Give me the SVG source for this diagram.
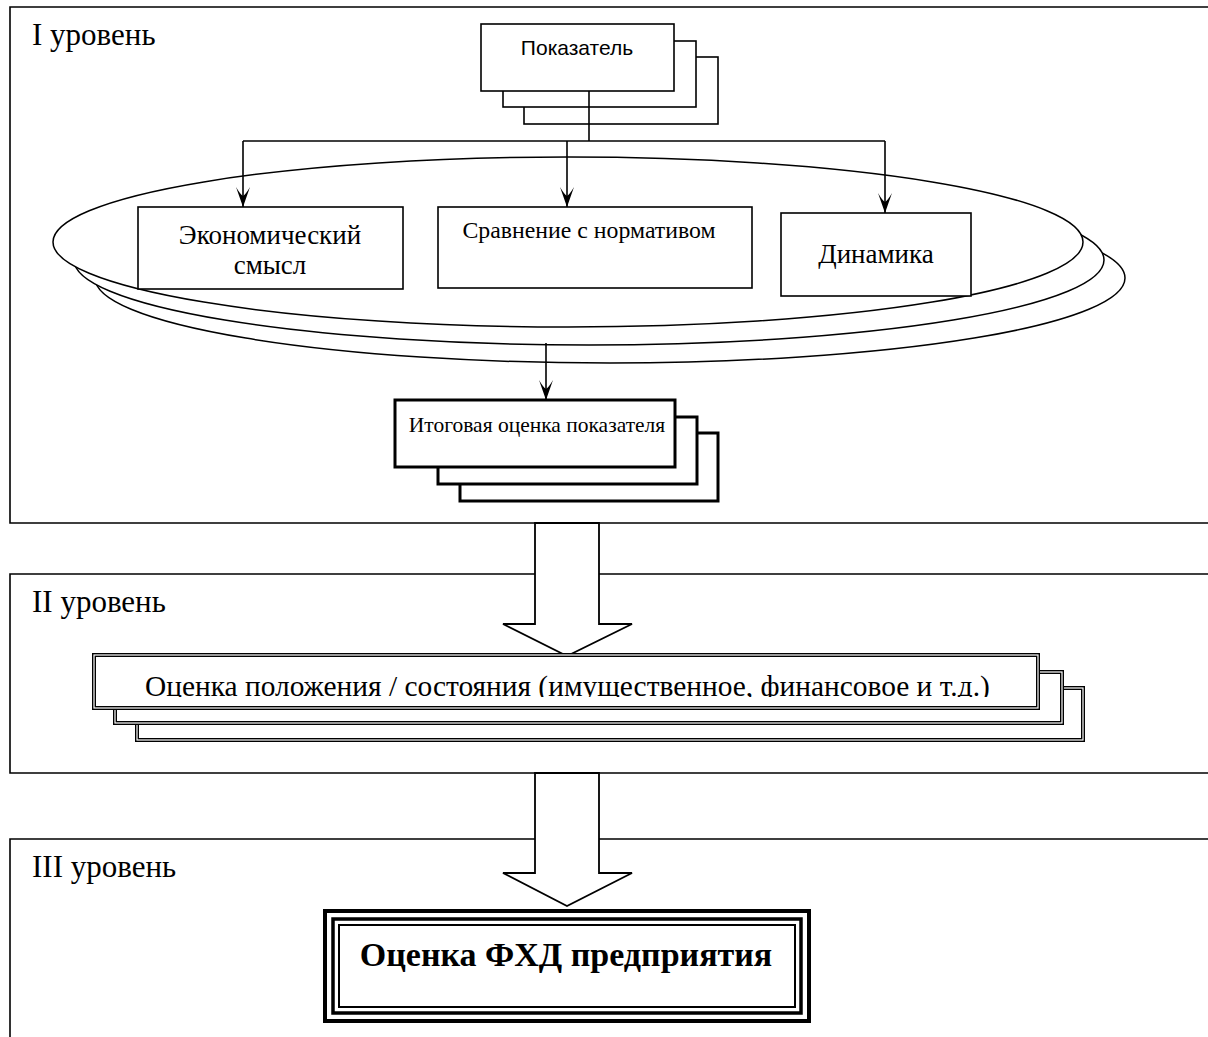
<svg xmlns="http://www.w3.org/2000/svg" width="1208" height="1037" viewBox="0 0 1208 1037">
<style>
.frame{fill:none;stroke:#000;stroke-width:1.6}
.box{fill:#fff;stroke:#000;stroke-width:1.6}
.thick{fill:#fff;stroke:#000;stroke-width:3}
.ell{fill:#fff;stroke:#000;stroke-width:1.5}
.dbl{fill:#fff;stroke:#000;stroke-width:4}
.dbli{fill:none;stroke:#fff;stroke-width:1.2}
.serif{font-family:"Liberation Serif","Times New Roman",serif;fill:#000}
.sans{font-family:"Liberation Sans",Arial,sans-serif;fill:#000}
.line{fill:none;stroke:#000;stroke-width:1.6}
.block{fill:#fff;stroke:#000;stroke-width:1.8;stroke-linejoin:miter}
.lvl{font-size:31px}
</style>
<defs>
<marker id="ah" markerUnits="userSpaceOnUse" markerWidth="24" markerHeight="16" viewBox="-22 -8 24 16" refX="0" refY="0" orient="auto">
<path d="M0,0 L-20,-7 Q-13,-3 -11,0 Q-13,3 -20,7 Z" fill="#000"/>
</marker>
<clipPath id="clip2"><rect x="96" y="657" width="940" height="40"/></clipPath>
</defs>
<rect width="1208" height="1037" fill="#fff"/>

<g id="frames">
<path class="frame" d="M1210,7 H10 V523 H1210"/>
<path class="frame" d="M1210,574 H10 V773 H1210"/>
<path class="frame" d="M1210,839 H10 V1040"/>
<text class="serif lvl" x="32" y="45">I уровень</text>
<text class="serif lvl" x="32" y="612">II уровень</text>
<text class="serif lvl" x="32" y="877">III уровень</text>
</g>

<g id="node-pokazatel">
<rect class="box" x="524" y="57" width="194" height="67"/>
<rect class="box" x="503" y="41" width="193" height="66"/>
<rect class="box" x="481" y="24" width="193" height="67"/>
<text class="sans" x="577" y="55" font-size="21" text-anchor="middle">Показатель</text>
</g>

<g id="ellipses">
<ellipse class="ell" cx="610" cy="278" rx="515" ry="85"/>
<ellipse class="ell" cx="589" cy="260" rx="515" ry="85"/>
<ellipse class="ell" cx="568" cy="242" rx="515" ry="85"/>
</g>

<g id="node-econ">
<rect class="box" x="138" y="207" width="265" height="82"/>
<text class="serif" x="270" y="244" font-size="27" text-anchor="middle">Экономический</text>
<text class="serif" x="270" y="274" font-size="27" text-anchor="middle">смысл</text>
</g>

<g id="node-norm">
<rect class="box" x="438" y="207" width="314" height="81"/>
<text class="serif" x="589" y="238" font-size="23.8" text-anchor="middle">Сравнение с нормативом</text>
</g>

<g id="node-dyn">
<rect class="box" x="781" y="213" width="190" height="83"/>
<text class="serif" x="876" y="263" font-size="27" text-anchor="middle">Динамика</text>
</g>

<g id="node-itog">
<rect class="thick" x="460" y="433" width="258" height="68"/>
<rect class="thick" x="438" y="417" width="259" height="67"/>
<rect class="thick" x="395" y="400" width="280" height="67"/>
<text class="serif" x="537" y="432" font-size="21.5" text-anchor="middle">Итоговая оценка показателя</text>
</g>

<g id="connectors">
<path class="line" d="M589,91 V141"/>
<path class="line" d="M243,141 H885"/>
<path class="line" d="M243,141 V207" marker-end="url(#ah)"/>
<path class="line" d="M567,141 V207" marker-end="url(#ah)"/>
<path class="line" d="M885,141 V213" marker-end="url(#ah)"/>
<path class="line" d="M546,343 V400" marker-end="url(#ah)"/>
<polygon class="block" points="535,523 599,523 599,624 632,624 567,656 503,624 535,624"/>
<polygon class="block" points="535,773 599,773 599,873 632,873 567,906 503,873 535,873"/>
</g>

<g id="node-state">
<rect class="dbl" x="137" y="688" width="946" height="52"/>
<rect class="dbli" x="137" y="688" width="946" height="52"/>
<rect class="dbl" x="115" y="672" width="947" height="51"/>
<rect class="dbli" x="115" y="672" width="947" height="51"/>
<rect class="dbl" x="94" y="655" width="944" height="53"/>
<rect class="dbli" x="94" y="655" width="944" height="53"/>
<text class="serif" x="145" y="696" font-size="29.4" clip-path="url(#clip2)">Оценка положения / состояния (имущественное, финансовое и т.д.)</text>
</g>

<g id="node-fhd">
<rect x="325" y="911" width="484" height="110" fill="#fff" stroke="#000" stroke-width="4"/>
<rect x="333" y="919" width="468" height="94" fill="none" stroke="#000" stroke-width="3.5"/>
<rect x="339" y="925" width="456" height="82" fill="none" stroke="#000" stroke-width="2"/>
<text class="serif" x="566" y="966" font-size="34" font-weight="bold" text-anchor="middle">Оценка ФХД предприятия</text>
</g>
</svg>
